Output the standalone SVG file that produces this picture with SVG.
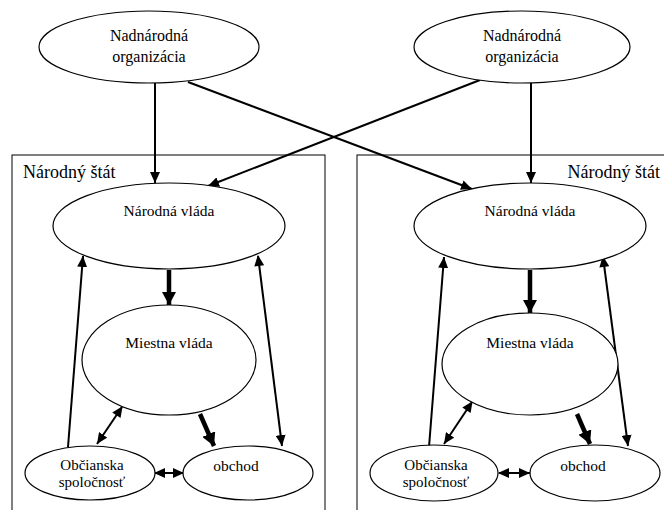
<svg xmlns="http://www.w3.org/2000/svg" width="664" height="510" viewBox="0 0 664 510">
<style>
.e{fill:#fff;stroke:#000;stroke-width:1.2}
text{font-family:"Liberation Serif","Times New Roman",Tinos,"DejaVu Serif",serif;fill:#000;text-anchor:middle}
.c{stroke:#000;stroke-width:2;fill:none}
.k{stroke:#000;stroke-width:4.5;fill:none}
.box{fill:none;stroke:#000;stroke-width:1}
</style>
<defs>
<marker id="a" markerUnits="userSpaceOnUse" markerWidth="12" markerHeight="10" refX="11" refY="5" orient="auto"><path d="M0,0 L11,5 L0,10 Z" fill="#000"/></marker>
<marker id="as" markerUnits="userSpaceOnUse" markerWidth="12" markerHeight="10" refX="1" refY="5" orient="auto"><path d="M11,0 L0,5 L11,10 Z" fill="#000"/></marker>
<marker id="ak" markerUnits="userSpaceOnUse" markerWidth="14" markerHeight="14" refX="13" refY="7" orient="auto"><path d="M0,0 L13,7 L0,14 Z" fill="#000"/></marker>
</defs>
<g id="stat-left"><rect class="box" x="12" y="155" width="313" height="360"/><text x="23" y="178" font-size="18" style="text-anchor:start">Národný štát</text></g>
<g id="stat-right"><rect class="box" x="357" y="155" width="320" height="360"/><text x="660" y="178" font-size="18" style="text-anchor:end">Národný štát</text></g>
<g id="connectors">
<line class="c" x1="155" y1="83" x2="155" y2="183" marker-end="url(#a)"/>
<line class="c" x1="531" y1="83" x2="531" y2="183" marker-end="url(#a)"/>
<line class="c" x1="188" y1="82" x2="472" y2="189" marker-end="url(#a)"/>
<line class="c" x1="480" y1="80" x2="208" y2="186" marker-end="url(#a)"/>
<line class="c" x1="68" y1="447" x2="83" y2="256" marker-end="url(#a)"/>
<line class="c" x1="258" y1="256" x2="282" y2="446" marker-start="url(#as)" marker-end="url(#a)"/>
<line class="k" x1="169" y1="270" x2="169" y2="305" marker-end="url(#ak)"/>
<line class="c" x1="122" y1="407" x2="97" y2="444" marker-start="url(#as)" marker-end="url(#a)"/>
<line class="k" x1="200" y1="414" x2="214" y2="446" marker-end="url(#ak)"/>
<line class="c" x1="155" y1="473" x2="184" y2="473" marker-start="url(#as)" marker-end="url(#a)"/>
<line class="c" x1="429" y1="447" x2="444" y2="257" marker-end="url(#a)"/>
<line class="c" x1="603" y1="257" x2="628" y2="446" marker-start="url(#as)" marker-end="url(#a)"/>
<line class="k" x1="530" y1="270" x2="530" y2="313" marker-end="url(#ak)"/>
<line class="c" x1="472" y1="402" x2="444" y2="444" marker-start="url(#as)" marker-end="url(#a)"/>
<line class="k" x1="577" y1="414" x2="590" y2="444" marker-end="url(#ak)"/>
<line class="c" x1="499" y1="473" x2="530" y2="473" marker-start="url(#as)" marker-end="url(#a)"/>
</g>
<g id="nadnarodna-left"><ellipse class="e" cx="149" cy="47" rx="110" ry="36"/><text x="149" y="41" font-size="16">Nadnárodná</text><text x="149" y="62" font-size="16">organizácia</text></g>
<g id="nadnarodna-right"><ellipse class="e" cx="522" cy="47" rx="108" ry="36"/><text x="522" y="41" font-size="16">Nadnárodná</text><text x="522" y="62" font-size="16">organizácia</text></g>
<g id="narodna-left"><ellipse class="e" cx="169" cy="226" rx="116" ry="43"/><text x="169" y="216" font-size="15.5">Národná vláda</text></g>
<g id="narodna-right"><ellipse class="e" cx="530" cy="226" rx="116" ry="43"/><text x="530" y="216" font-size="15.5">Národná vláda</text></g>
<g id="miestna-left"><ellipse class="e" cx="169" cy="360" rx="87" ry="55"/><text x="169" y="348" font-size="15.5">Miestna vláda</text></g>
<g id="miestna-right"><ellipse class="e" cx="530" cy="364" rx="88" ry="51"/><text x="530" y="348" font-size="15.5">Miestna vláda</text></g>
<g id="obcianska-left"><ellipse class="e" cx="90" cy="473" rx="65" ry="27"/><text x="92" y="470" font-size="15">Občianska</text><text x="92" y="487" font-size="15">spoločnosť</text></g>
<g id="obchod-left"><ellipse class="e" cx="248" cy="473" rx="65" ry="27"/><text x="236" y="471" font-size="15.5">obchod</text></g>
<g id="obcianska-right"><ellipse class="e" cx="434" cy="473" rx="64" ry="28"/><text x="436" y="470" font-size="15">Občianska</text><text x="436" y="487" font-size="15">spoločnosť</text></g>
<g id="obchod-right"><ellipse class="e" cx="595" cy="473" rx="65" ry="28"/><text x="583" y="471" font-size="15.5">obchod</text></g>
</svg>
